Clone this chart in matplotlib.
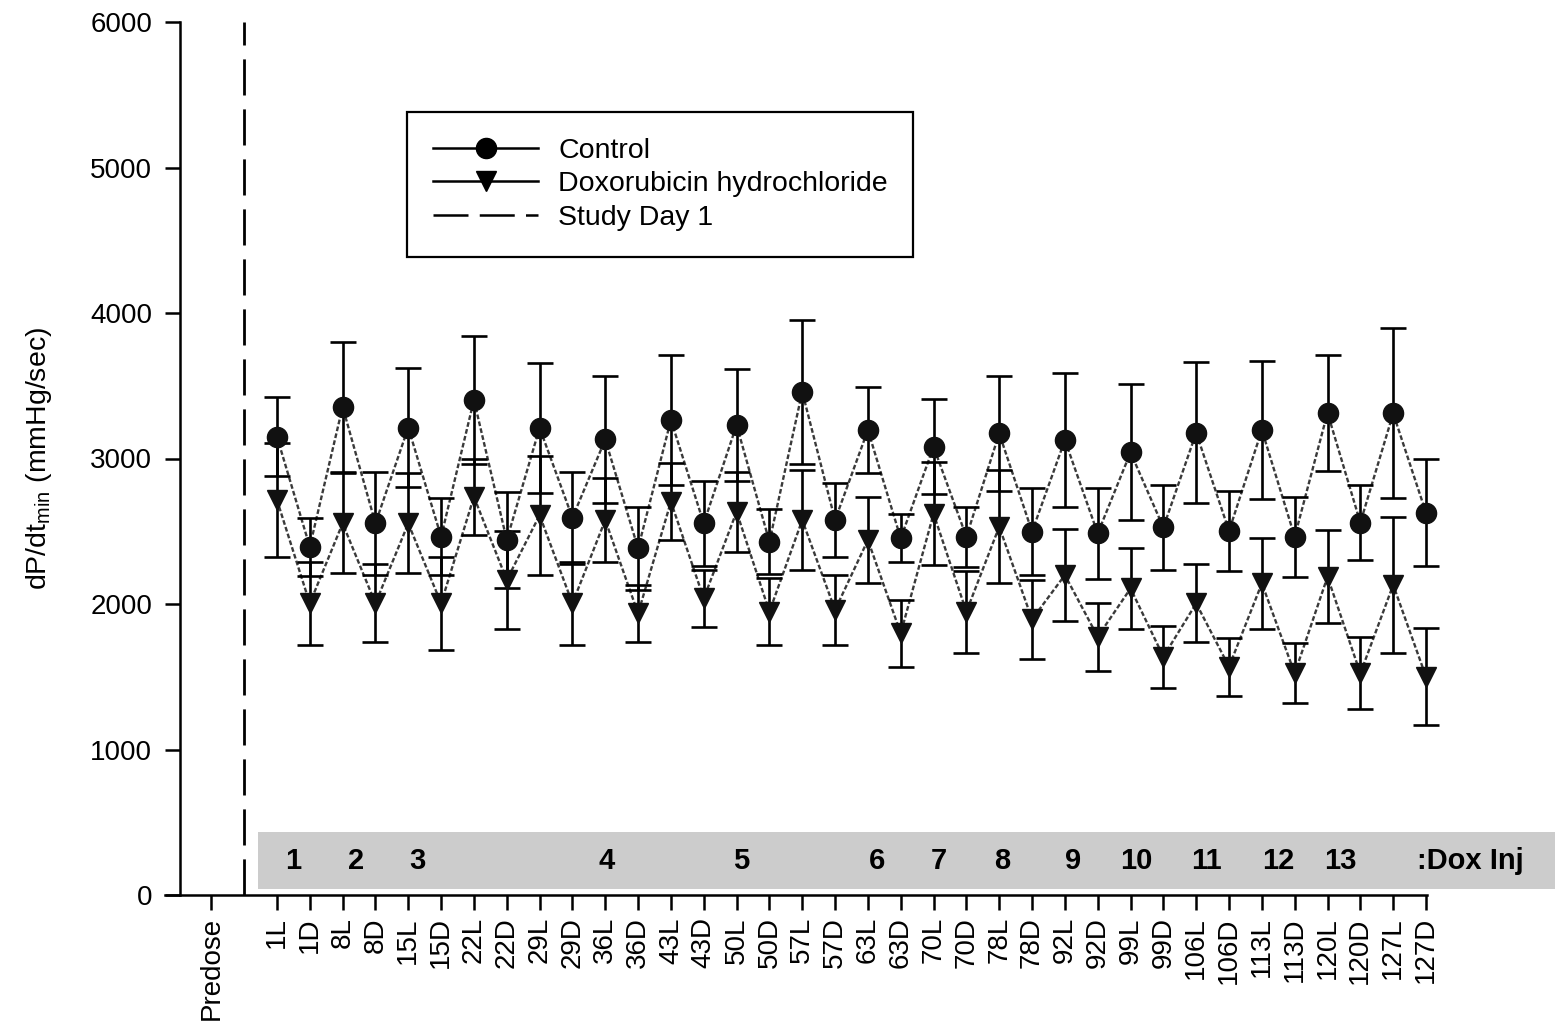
import matplotlib
matplotlib.use("Agg")
import matplotlib.pyplot as plt
from matplotlib.lines import Line2D
from matplotlib.patches import Rectangle
import numpy as np

plt.rcParams["font.family"] = ["Liberation Sans", "DejaVu Sans"]
plt.rcParams["mathtext.default"] = "regular"

# ---- data ----
visits = ["1L", "1D", "8L", "8D", "15L", "15D", "22L", "22D", "29L", "29D",
          "36L", "36D", "43L", "43D", "50L", "50D", "57L", "57D", "63L", "63D",
          "70L", "70D", "78L", "78D", "92L", "92D", "99L", "99D", "106L", "106D",
          "113L", "113D", "120L", "120D", "127L", "127D"]

control_mean = [3150, 2393, 3355, 2554, 3213, 2462, 3402, 2440, 3211, 2593,
                3131, 2382, 3265, 2554, 3230, 2428, 3458, 2577, 3196, 2451,
                3081, 2462, 3173, 2497, 3127, 2485, 3042, 2526, 3177, 2502,
                3196, 2462, 3314, 2559, 3310, 2627]
control_err = [270, 200, 447, 355, 406, 264, 440, 330, 447, 316,
               436, 286, 446, 293, 385, 222, 494, 257, 297, 165,
               325, 206, 394, 300, 458, 310, 467, 292, 484, 277,
               476, 275, 400, 259, 584, 367]

dox_mean = [2715, 2004, 2554, 2004, 2554, 2004, 2737, 2165, 2610, 2004,
            2577, 1935, 2703, 2038, 2634, 1947, 2577, 1959, 2440, 1798,
            2620, 1947, 2531, 1895, 2199, 1775, 2107, 1638, 2004, 1569,
            2142, 1523, 2187, 1523, 2131, 1500]
dox_err = [392, 286, 343, 268, 343, 320, 263, 337, 410, 286,
           287, 195, 263, 195, 275, 229, 343, 241, 298, 229,
           355, 281, 389, 270, 316, 235, 280, 214, 268, 200,
           314, 206, 320, 247, 465, 332]

inj_labels = ["1", "2", "3", "4", "5", "6", "7", "8", "9", "10", "11", "12", "13"]

# ---- layout ----
x_pre = 0
x_day1 = 1
x = np.arange(2, 2 + len(visits))
inj_x = [2.49, 4.41, 6.29, 12.05, 16.13, 20.28, 22.16, 24.08, 26.25, 28.19, 30.30, 32.49, 34.38]

fig = plt.figure(figsize=(15.56, 10.32), dpi=100)
ax = fig.add_axes([165 / 1556, 1 - 895 / 1032, 1262 / 1556, 873 / 1032])

line_kw = dict(color="#3a3a3a", lw=1.7, linestyle=(0, (2, 1)), zorder=2)
ax.plot(x, control_mean, **line_kw)
ax.plot(x, dox_mean, **line_kw)

eb_kw = dict(ecolor="black", elinewidth=1.9, capsize=9.5, capthick=1.9,
             linestyle="none", zorder=3)
for mean, err, fmt, ms in [(dox_mean, dox_err, "v", 14), (control_mean, control_err, "o", 14.5)]:
    cont = ax.errorbar(x, mean, yerr=err, fmt=fmt, color="#111111",
                       markersize=ms, **eb_kw)
    for art in cont.get_children():
        art.set_clip_on(False)

# study day 1 marker
ax.axvline(x_day1, ymin=0, ymax=1, color="black", lw=2, linestyle=(0, (13, 5)))

# injection strip
ax.add_patch(Rectangle((1.42, 40), 39.5, 395, facecolor="#cccccc",
                       edgecolor="none", clip_on=False, zorder=1))
for xi, lab in zip(inj_x, inj_labels):
    ax.text(xi, 235, lab, ha="center", va="center", fontsize=21,
            fontweight="bold", zorder=4)
ax.text(38.34, 235, ":Dox Inj", ha="center", va="center", fontsize=21,
        fontweight="bold", zorder=4, clip_on=False)

# axes
ax.set_xlim(-1.41, 37.03)
ax.set_ylim(0, 6000)
ax.spines["top"].set_visible(False)
ax.spines["right"].set_visible(False)
ax.spines["left"].set_position(("data", -0.955))
for s in ("left", "bottom"):
    ax.spines[s].set_linewidth(1.8)

ax.set_yticks(np.arange(0, 6001, 1000))
ax.set_xticks([x_pre] + list(x))
ax.set_xticklabels(["Predose"] + visits, rotation=90)
ax.tick_params(axis="both", direction="out", length=11, width=1.8,
               labelsize=20, pad=5)
ax.tick_params(axis="y", pad=9)
ax.set_ylabel(r"dP/dt$_{min}$ (mmHg/sec)", fontsize=20.5, labelpad=26)

handles = [
    Line2D([], [], color="black", lw=1.8, marker="o", markersize=14.5),
    Line2D([], [], color="black", lw=1.8, marker="v", markersize=14),
    Line2D([], [], color="black", lw=1.8, linestyle=(0, (14, 4.5))),
]
leg = ax.legend(handles, ["Control", "Doxorubicin hydrochloride", "Study Day 1"],
                loc="upper left", bbox_to_anchor=(0.192, 0.897), borderaxespad=0,
                fontsize=20.5, handlelength=3.7, handletextpad=0.7,
                labelspacing=0.27, borderpad=0.9, fancybox=False)
leg.get_frame().set_edgecolor("black")
leg.get_frame().set_linewidth(1.6)
leg.get_frame().set_alpha(1)

fig.savefig("out.png", dpi=100)
